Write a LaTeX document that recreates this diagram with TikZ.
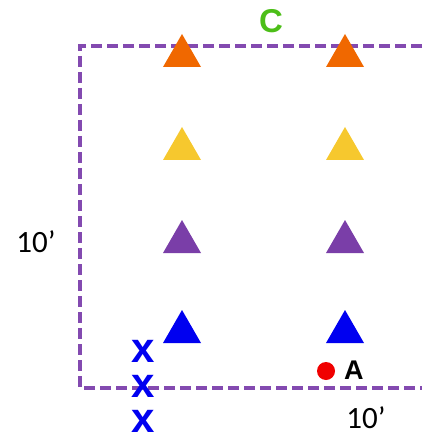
\documentclass[tikz,border=0pt]{standalone}
\usepackage{fontspec}
\setmainfont{Liberation Sans}
\newfontfamily\numfont{Carlito}
\definecolor{fence}{RGB}{131,74,176}
\definecolor{tOrange}{RGB}{240,104,0}
\definecolor{tYellow}{RGB}{246,200,46}
\definecolor{tPurple}{RGB}{122,62,168}
\definecolor{tBlue}{RGB}{0,0,240}
\definecolor{cGreen}{RGB}{76,190,24}
\definecolor{dotRed}{RGB}{240,0,0}
\begin{document}
\begin{tikzpicture}[x=1pt,y=-1pt,
  fenceline/.style={draw=fence,line width=4pt,dash pattern=on 11pt off 5pt},
  marker/.style={fill=#1,draw=none},
  dim/.style={font=\numfont\fontsize{31}{31}\selectfont,text=black,inner sep=0pt},
  xmark/.style={font=\bfseries\fontsize{42}{42}\selectfont,text=tBlue,inner sep=0pt,
    text height=21pt,text depth=0pt,anchor=base},
]
\useasboundingbox (0,0) rectangle (422,435);
% dashed boundary
\draw[fenceline] (422,46) -- (80,46) -- (80,388) -- (422,388);
% triangle markers, two columns, four rows
\foreach \cx in {182,345}{
  \foreach \ty/\col in {34/tOrange,127/tYellow,220/tPurple,310/tBlue}{
    \fill[marker=\col] (\cx,\ty) -- (\cx+19,\ty+33) -- (\cx-19,\ty+33) -- cycle;
  }
}
% x marks
\node[xmark] (x1) at (143,362) {x};
\node[xmark] (x2) at (143,397) {x};
\node[xmark] (x3) at (143,432) {x};
% point A
\fill[dotRed] (326,371) circle (9);
\node[font=\bfseries\fontsize{27}{27}\selectfont,inner sep=0pt,anchor=base west] (A) at (344,379) {A};
% label C
\node[font=\bfseries\fontsize{33}{33}\selectfont,text=cGreen,inner sep=0pt,anchor=base] (C) at (271,33) {C};
% dimensions
\node[dim,anchor=base] (dimL) at (36,252) {10’};
\node[dim,anchor=base,text depth=0pt] (dimB) at (366,428) {10’};
\end{tikzpicture}
\end{document}
